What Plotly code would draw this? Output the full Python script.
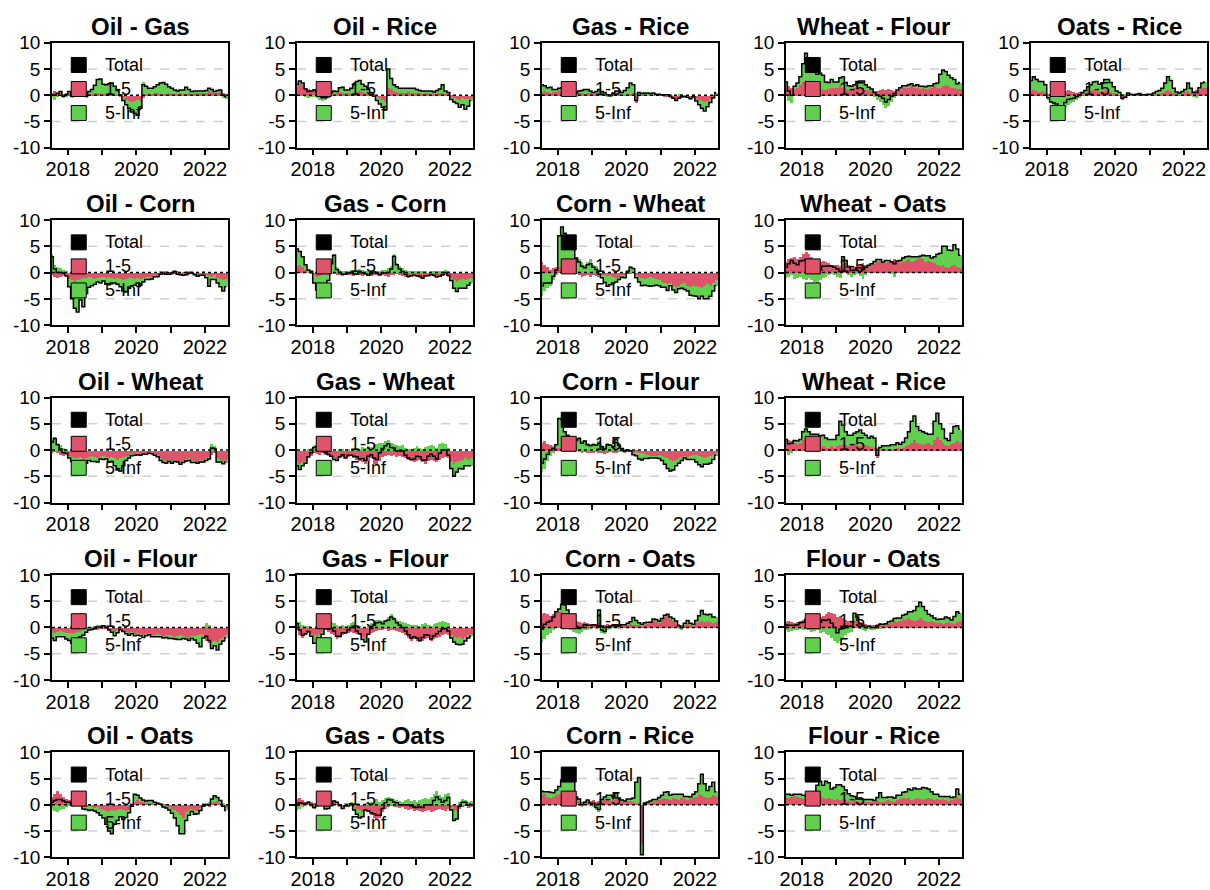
import plotly.graph_objects as go
import pandas as pd

W, H = 1210, 890

# Monthly observation dates, Jul 2017 .. Aug 2022 (62 points)
months = pd.date_range("2017-07-01", "2022-08-01", freq="MS") + pd.Timedelta(days=14)

# ---- pairwise connectedness, 1-5 band and 5-Inf band ----
oil_gas_1_5 = [
    0.5, 0.8, 0.6, 0.5, 0.3, 0.4,
    0.5, 0.3, 0.2, 0.4, 0.6, 0.5, 0.3, 0.2, 0.3, 0.4, 0.5, 0.3,
    0.3, 0.5, 0.4, 0.3, 0.2, 0.1, -0.2, -0.5, -0.8, -1.0, -1.2, -1.0,
    -0.8, -1.0, -0.5, 0.2, 0.5, 0.3, 0.4, 0.5, 0.3, 0.2, 0.3, 0.4,
    0.3, 0.2, 0.3, 0.4, 0.2, 0.3, 0.4, 0.3, 0.5, 0.6, 0.5, 0.4,
    0.6, 0.8, 0.7, 0.5, 0.6, 0.8, 0.5, 0.3]
oil_gas_5_inf = [
    -0.5, -0.8, -0.3, 0.2, -0.5, -0.3,
    0.2, -0.5, 0.5, 0.8, -0.2, 0.3, -0.5, 0.5, 0.8, 1.5, 2.5, 2.8,
    1.8, 1.5, 1.8, 2.0, 1.5, 0.8, 0.3, -0.5, -1.0, -1.5, -2.0, -2.5,
    -3.0, -1.5, 2.5, 1.5, 0.8, 1.0, 1.2, 1.5, 2.0, 2.2, 1.8, 1.2,
    1.0, 0.8, 0.5, 0.6, 0.8, 1.2, 0.7, 0.4, 0.3, 0.2, 0.3, 0.4,
    0.3, 0.5, 0.4, 0.2, 0.3, 0.2, -0.5, -0.6]

oil_rice_1_5 = [
    1.8, 2.2, 2.0, 1.5, 1.2, 1.0,
    1.2, 1.0, 0.8, 0.5, 0.3, 0.2, 0.2, 0.3, 0.5, 0.6, 0.5, 0.4,
    0.5, 0.3, 0.5, 0.6, 0.8, 0.6, 0.5, 0.3, 0.2, 0.1, -0.2, -0.5,
    -0.8, -1.0, 1.5, 1.2, 0.8, 0.6, 0.5, 0.5, 0.5, 0.6, 0.5, 0.5,
    0.5, 0.4, 0.3, 0.4, 0.5, 0.3, 0.2, 0.3, 0.4, 0.5, 0.2, 0.3,
    -0.3, -0.5, -0.6, -0.8, -0.5, -0.7, -0.6, -0.4]
oil_rice_5_inf = [
    0.3, 0.5, 0.3, -0.3, -0.5, -0.2,
    -0.2, -0.4, -0.8, -1.0, -0.8, -0.5, 0.3, 0.5, 0.2, 0.8, 1.0, 0.6,
    0.5, 1.0, 1.5, 2.0, 2.0, 1.5, 1.2, 0.8, 0.3, -0.3, -0.8, -1.2,
    -1.5, -1.8, 3.5, 2.0, 1.2, 1.0, 0.8, 0.8, 0.8, 0.7, 0.8, 0.8,
    0.6, 0.5, 0.5, 0.4, 0.3, 0.5, 0.4, 0.6, 0.8, 1.5, 0.6, 0.2,
    -0.5, -0.8, -1.0, -1.5, -1.3, -2.0, -1.5, -0.6]

gas_rice_1_5 = [
    0.5, 0.8, 0.6, 0.5, 0.6, 0.8,
    1.0, 1.2, 1.3, 1.2, 1.0, 0.8, 0.6, 0.5, 0.4, 0.3, 0.5, 0.4,
    0.3, 0.2, 0.3, 0.1, 0.2, 0.3, 0.2, 0.1, 0.2, 0.3, 0.2, 0.1,
    0.2, 0.3, 0.5, -1.5, 0.2, 0.1, 0.1, 0.0, 0.1, 0.1, 0.0, 0.1,
    0.0, -0.1, -0.2, -0.4, -0.6, -0.8, -0.7, -0.5, -0.3, -0.2, -0.4, -0.5,
    -0.6, -0.8, -1.0, -1.2, -1.0, -0.6, -0.3, 0.2]
gas_rice_5_inf = [
    1.5, 1.0, 0.8, 1.0, 0.5, 0.3,
    0.3, 0.2, 0.5, 0.4, 0.2, 0.0, -0.2, 0.3, 0.5, 0.8, 0.6, 0.4,
    0.2, 0.5, 0.8, 0.6, 0.3, -0.2, -0.3, 0.2, 0.6, 0.5, 0.3, 0.8,
    1.2, 2.0, 1.5, 0.5, 0.3, 0.2, 0.3, 0.4, 0.2, 0.3, 0.2, 0.1,
    0.1, 0.2, 0.3, 0.2, 0.0, -0.2, 0.1, 0.2, 0.0, -0.2, -0.3, 0.2,
    -0.5, -1.0, -1.5, -1.8, -1.2, -0.8, -0.2, 0.3]

wheat_flour_1_5 = [
    1.5, 1.8, 1.5, 1.2, 1.5, 2.0,
    2.5, 3.0, 2.8, 2.5, 2.0, 1.5, 1.2, 1.0, 1.0, 1.2, 1.5, 1.5,
    1.5, 1.8, 1.5, 1.2, 1.0, 1.2, 1.5, 1.8, 1.5, 1.2, 1.0, 1.0,
    1.0, 0.8, 0.8, 1.0, 1.2, 1.0, 1.2, 1.0, 0.8, 1.0, 1.2, 1.5,
    1.5, 1.5, 1.8, 1.6, 1.5, 1.4, 1.5, 1.2, 1.3, 1.5, 1.8, 1.5,
    1.5, 1.8, 2.0, 1.8, 1.5, 1.5, 1.2, 1.2]
wheat_flour_5_inf = [
    1.0, -1.0, -1.5, 0.5, 0.8, 1.5,
    3.5, 5.0, 4.0, 3.5, 2.5, 2.5, 3.0, 2.8, 1.5, 1.2, 1.5, 1.0,
    1.0, 1.5, 2.0, 1.2, 0.8, 0.5, 0.5, 0.8, 1.2, 1.5, 1.0, 0.5,
    0.2, -0.3, -0.8, -1.2, -1.8, -2.3, -2.0, -1.2, -0.5, 0.0, 0.2, 0.3,
    0.3, 0.5, 0.4, 0.2, 0.5, 0.3, 0.2, 0.4, 0.5, 0.3, 0.4, 0.8,
    2.5, 3.0, 2.5, 2.0, 1.8, 1.5, 1.0, 1.2]

oats_rice_1_5 = [
    0.8, 1.0, 0.8, 0.6, 0.8, 0.5,
    0.3, 0.2, 0.5, 0.8, 1.0, 0.8, 0.8, 1.0, 0.8, 0.6, 0.5, 0.6,
    0.5, 0.6, 0.8, 0.8, 1.0, 0.8, 0.6, 0.8, 1.0, 0.8, 0.6, 0.4,
    0.3, 0.2, -0.8, -0.5, 0.2, 0.1, 0.1, 0.1, 0.1, 0.0, 0.1, 0.1,
    0.1, 0.2, 0.3, 0.3, 0.5, 0.8, 1.0, 0.8, 0.5, 0.3, 0.2, 0.3,
    0.6, 0.8, 0.5, 0.8, 1.0, 1.2, 1.5, 1.5]
oats_rice_5_inf = [
    2.0, 2.5, 2.2, 2.0, 1.8, 1.5,
    -0.8, -1.5, -2.0, -2.5, -3.0, -2.8, -2.2, -1.8, -1.5, -1.2, -0.8, -0.5,
    0.0, 0.3, 0.8, 1.2, 1.5, 1.8, 1.5, 1.5, 2.0, 2.2, 1.8, 1.2,
    0.5, 0.3, 0.2, 0.1, 0.2, 0.1, 0.0, 0.1, 0.2, 0.1, 0.0, 0.1,
    0.1, 0.2, 0.4, 0.6, 0.8, 1.5, 2.5, 2.0, 0.8, 0.3, 0.2, 0.4,
    0.5, 1.5, 0.8, -0.3, -0.5, 0.2, 0.8, 1.0]

oil_corn_1_5 = [
    -0.5, -0.8, -1.0, -0.8, -0.6, -0.8,
    -1.2, -1.5, -1.8, -1.5, -1.2, -1.0, -1.0, -0.8, -1.0, -1.2, -1.0, -0.8,
    -0.8, -1.0, -0.8, -1.0, -1.2, -1.0, -1.2, -1.5, -1.2, -1.0, -1.0, -1.2,
    -1.0, -1.2, -1.0, -0.8, -1.0, -0.8, -0.6, -0.8, -0.5, -0.4, -0.5, -0.3,
    -0.4, -0.3, -0.5, -0.4, -0.3, -0.5, -0.4, -0.3, -0.4, -0.5, -0.4, -0.6,
    -0.5, -0.6, -0.8, -0.5, -1.0, -1.2, -1.5, -1.2]
oil_corn_5_inf = [
    3.5, 1.5, 1.0, 0.8, 0.5, 0.2,
    -1.5, -3.5, -5.0, -6.0, -4.0, -5.5, -3.0, -2.0, -1.5, -1.0, -0.8, -1.2,
    -0.8, -1.2, -1.5, -1.0, -0.8, -1.2, -1.5, -2.0, -2.5, -2.0, -1.5, -1.2,
    -1.0, -1.2, -0.8, -0.5, -0.3, -0.4, -0.2, 0.0, 0.2, 0.3, 0.2, 0.0,
    0.3, 0.5, 0.2, 0.0, -0.2, 0.1, 0.3, 0.2, 0.0, -0.2, -0.1, 0.1,
    -0.5, -2.0, -0.5, -0.8, -1.0, -1.5, -2.0, -1.5]

gas_corn_1_5 = [
    1.0, 1.5, 1.0, 0.5, 0.0, -0.3,
    -0.5, -0.8, -0.6, -0.5, -0.3, -0.5, -0.3, -0.2, -0.4, -0.5, -0.6, -0.5,
    -0.4, -0.5, -0.6, -0.5, -0.4, -0.6, -0.5, -0.7, -0.6, -0.5, -0.4, -0.6,
    -0.5, -0.6, -0.8, -0.5, -0.4, -0.3, -0.5, -0.6, -0.8, -1.0, -0.8, -0.6,
    -0.8, -1.0, -1.2, -0.8, -0.6, -0.5, -0.8, -1.0, -0.8, -0.6, -0.5, -0.8,
    -1.0, -1.5, -1.8, -1.5, -1.2, -1.5, -1.2, -1.0]
gas_corn_5_inf = [
    3.5, 2.5, 2.0, 1.0, 0.5, 0.5,
    -1.5, -2.5, -3.5, -4.0, -2.0, -1.0, 2.0, 3.5, 1.0, 0.5, 0.3, 0.2,
    0.3, 0.5, 0.4, 0.2, 0.6, 0.5, 0.3, 0.2, 0.4, 0.6, 0.3, 0.2,
    0.4, 0.5, 0.8, 1.2, 3.5, 1.8, 1.2, 0.8, 0.5, 0.3, 0.2, 0.1,
    0.2, 0.3, 0.1, 0.2, 0.0, 0.1, 0.3, 0.2, 0.1, 0.2, 0.5, 0.3,
    -0.5, -1.5, -1.8, -1.5, -1.8, -1.5, -1.2, -1.0]

corn_wheat_1_5 = [
    2.0, 1.5, 1.0, 0.5, 0.8, 1.0,
    1.0, 1.2, 1.0, 0.8, 0.5, 0.3, -0.2, -0.5, -0.8, -0.6, -0.5, -0.8,
    -0.5, -0.6, -0.8, -0.5, -0.4, -0.6, -0.5, -0.8, -1.0, -0.8, -0.6, -0.5,
    -0.3, -0.2, 0.0, -0.5, -0.8, -1.0, -1.2, -1.0, -0.8, -1.0, -1.2, -1.5,
    -1.8, -2.0, -2.2, -2.0, -2.5, -2.8, -2.5, -2.2, -2.0, -2.5, -2.8, -2.6,
    -2.5, -2.8, -3.0, -2.5, -2.2, -2.5, -2.0, -1.5]
corn_wheat_5_inf = [
    -4.5, -3.5, -3.0, -2.5, -1.5, -0.5,
    6.0, 7.5, 6.5, 5.5, 6.0, 4.5, 3.0, 2.5, 2.0, 1.5, 2.0, 2.5,
    1.5, 1.2, 0.5, -0.5, -1.5, -2.0, -1.8, -1.2, -0.8, -0.5, -0.3, -0.5,
    0.5, 1.2, 0.8, -0.5, -1.0, -1.5, -1.2, -1.5, -1.8, -1.5, -1.2, -1.0,
    -1.0, -0.8, -1.2, -0.5, -0.8, -1.0, -0.6, -0.8, -1.2, -1.0, -1.5, -1.8,
    -2.0, -2.2, -1.5, -2.5, -2.8, -2.0, -1.5, -1.0]

wheat_oats_1_5 = [
    2.0, 2.5, 2.8, 3.0, 2.5, 3.0,
    3.5, 4.0, 3.5, 3.0, 2.5, 2.5, 2.0, 2.2, 2.0, 1.8, 1.5, 1.5,
    1.5, 1.2, 1.5, 1.8, 1.5, 1.2, 1.0, 1.2, 1.5, 1.8, 1.5, 1.2,
    1.5, 1.8, 2.0, 2.2, 2.0, 1.8, 2.0, 2.2, 2.5, 2.0, 1.8, 2.0,
    2.2, 2.5, 2.0, 2.2, 2.5, 2.8, 2.5, 2.0, 2.2, 2.0, 1.8, 1.5,
    1.2, 1.5, 1.0, 0.8, 1.2, 1.5, 1.0, 0.8]
wheat_oats_5_inf = [
    -1.0, -0.8, -0.5, -1.2, -1.0, -0.8,
    -1.2, -1.5, -1.0, -1.5, -1.8, -2.0, -1.5, -1.0, -0.8, -0.5, -0.3, -0.5,
    -0.8, -1.0, 1.5, 0.5, -0.5, -0.8, -0.5, -0.3, -0.6, -1.2, -0.5, 0.2,
    0.2, 0.3, 0.5, 0.3, 0.0, 0.5, 0.3, -0.2, -0.8, 0.2, 0.5, 0.8,
    0.8, 0.6, 1.0, 0.8, 0.5, 0.3, 0.8, 1.2, 1.0, 0.8, 1.2, 2.0,
    2.5, 3.5, 4.0, 3.5, 3.0, 3.8, 3.5, 2.5]

oil_wheat_1_5 = [
    -0.5, -0.3, -0.5, -0.8, -1.0, -0.8,
    -1.0, -1.2, -1.5, -1.5, -1.2, -1.8, -1.5, -1.2, -1.0, -1.2, -1.5, -1.2,
    -1.0, -1.2, -1.5, -1.2, -1.5, -1.8, -1.5, -1.2, -1.0, -1.0, -0.8, -0.8,
    -0.6, -0.8, -0.8, -0.6, -0.5, -0.7, -0.8, -1.0, -1.5, -1.8, -2.0, -1.8,
    -2.0, -1.8, -2.0, -2.2, -2.0, -1.8, -1.5, -1.8, -2.0, -2.2, -1.8, -2.0,
    -1.5, -1.2, -0.8, -0.5, -1.5, -1.8, -2.0, -1.8]
oil_wheat_5_inf = [
    2.0, 2.5, 1.5, 1.0, 0.5, 0.2,
    -0.5, -1.0, -1.5, -2.0, -2.2, -1.5, -1.0, -0.8, -1.2, -1.0, -0.8, -0.5,
    -0.8, -0.5, -0.8, -1.0, -1.5, -2.0, -2.5, -1.8, -1.0, -0.5, -0.3, -0.2,
    -0.3, -0.2, 0.0, -0.2, -0.1, 0.0, -0.2, -0.3, -0.5, -0.6, -0.5, -0.4,
    -0.5, -0.4, -0.3, -0.5, -0.4, -0.3, -0.5, -0.6, -0.4, -0.3, -0.5, -0.3,
    -0.5, -0.5, 1.2, 0.8, -0.8, -0.5, -0.6, -0.5]

gas_wheat_1_5 = [
    -2.0, -2.5, -2.2, -2.0, -1.5, -1.0,
    -0.5, -0.6, -0.8, -0.5, -0.8, -1.0, -1.2, -1.5, -1.8, -1.5, -1.2, -1.5,
    -1.2, -1.0, -1.5, -1.8, -2.0, -2.2, -2.5, -2.0, -1.5, -2.5, -3.0, -2.0,
    -1.2, -1.0, -0.8, -1.0, -0.8, -1.2, -1.0, -1.2, -1.5, -1.8, -2.0, -2.2,
    -2.0, -1.8, -2.2, -2.5, -2.0, -1.8, -2.0, -2.2, -1.8, -1.5, -1.2, -1.5,
    -2.0, -2.5, -2.2, -2.0, -1.8, -1.5, -1.8, -1.5]
gas_wheat_5_inf = [
    -1.0, -1.2, -0.8, -0.5, 0.2, 0.5,
    1.0, 1.2, 0.8, 0.5, 0.3, 0.2, 0.0, -0.3, -0.2, 0.2, 0.3, 0.0,
    0.2, 0.0, 0.3, 0.5, 0.3, 0.6, 0.5, 0.8, 0.6, 1.0, 1.2, 1.5,
    1.5, 1.8, 2.0, 1.5, 1.2, 1.0, 0.8, 1.0, 0.5, 0.3, 0.2, 0.5,
    0.8, 0.5, 0.3, 0.6, 0.8, 1.0, 0.8, 0.5, 1.2, 1.5, 1.2, 0.5,
    -1.5, -2.5, -2.0, -1.5, -1.8, -1.5, -1.2, -1.5]

corn_flour_1_5 = [
    1.5, 1.8, 1.2, 1.0, 0.8, 0.5,
    0.5, 0.8, 0.5, 0.3, 0.5, 0.2, 0.0, -0.3, -0.5, -0.3, -0.5, -0.4,
    -0.5, -0.3, -0.5, -0.4, -0.6, -0.5, -0.3, -0.4, -0.5, -0.3, -0.2, -0.4,
    -0.3, -0.2, -0.4, -0.3, -0.5, -0.4, -0.6, -0.8, -1.0, -1.2, -1.0, -0.8,
    -1.0, -1.2, -1.5, -1.8, -2.0, -1.8, -1.5, -1.2, -1.0, -1.2, -1.0, -0.8,
    -0.8, -1.0, -1.2, -1.5, -1.2, -1.0, -0.8, -0.5]
corn_flour_5_inf = [
    -4.0, -3.5, -2.0, -1.0, -0.5, 0.5,
    5.5, 5.0, 3.0, 2.5, 2.0, 1.5, 1.8, 2.5, 1.8, 2.0, 1.5, 1.2,
    1.5, 1.2, 1.8, 1.0, 0.8, 1.5, 1.2, 1.0, 2.5, 1.2, 0.5, 0.2,
    0.3, 0.0, -0.5, -0.8, -1.2, -1.5, -1.0, -0.8, -0.5, -0.3, -0.5, -0.8,
    -1.0, -1.5, -2.0, -2.2, -1.8, -1.2, -1.0, -0.8, -0.5, -0.6, -0.8, -1.0,
    -1.5, -1.8, -2.0, -1.2, -1.5, -1.5, -1.0, -0.5]

wheat_rice_1_5 = [
    1.5, 2.0, 1.8, 1.5, 1.2, 1.5,
    2.0, 2.2, 2.0, 1.5, 1.0, 0.5, 0.5, 0.8, 0.5, 0.5, 0.8, 0.5,
    0.8, 1.0, 1.2, 1.0, 0.8, 1.0, 1.2, 1.0, 0.8, 1.2, 1.0, 0.8,
    0.6, 0.5, -1.5, 0.2, 0.3, 0.2, 0.3, 0.2, 0.3, 0.4, 0.3, 0.5,
    0.8, 1.0, 1.5, 2.0, 1.5, 1.2, 1.0, 1.2, 1.5, 1.0, 2.0, 2.5,
    2.0, 1.5, 1.0, 0.8, 1.2, 1.5, 1.8, 1.5]
wheat_rice_5_inf = [
    0.5, -0.8, -0.5, 0.3, 0.5, 0.5,
    1.5, 1.8, 1.5, 1.5, 2.0, 2.5, 2.2, 2.0, 1.8, 1.5, 1.2, 1.5,
    2.0, 4.5, 3.5, 2.5, 2.0, 1.8, 2.0, 2.5, 3.0, 2.0, 1.8, 1.5,
    2.0, 1.8, 0.5, 0.3, 0.5, 0.6, 0.5, 0.8, 0.7, 1.0, 0.8, 1.0,
    1.5, 2.5, 4.0, 4.5, 3.0, 2.5, 2.5, 2.0, 1.5, 2.0, 3.5, 4.5,
    3.0, 2.5, 1.2, 1.0, 2.0, 3.0, 2.8, 2.5]

oil_flour_1_5 = [
    -0.8, -1.0, -0.8, -0.6, -0.8, -1.0,
    -1.0, -1.2, -1.0, -0.8, -0.6, -0.5, -0.3, -0.2, -0.3, -0.5, -0.4, -0.3,
    -0.2, -0.3, -0.5, -0.6, -0.8, -0.5, -0.6, -0.8, -1.0, -1.2, -1.0, -1.2,
    -1.2, -1.4, -1.5, -1.3, -1.2, -1.5, -1.4, -1.3, -1.5, -1.6, -1.4, -1.5,
    -1.6, -1.8, -1.7, -1.5, -1.6, -1.8, -2.0, -1.8, -1.6, -1.5, -1.2, -1.5,
    -2.5, -3.0, -2.8, -2.5, -2.8, -2.2, -1.8, -1.5]
oil_flour_5_inf = [
    -1.2, -1.5, -1.0, -1.2, -1.0, -1.2,
    -1.5, -1.8, -2.0, -1.5, -1.2, -1.0, -0.6, -0.3, -0.1, 0.3, 0.5, 0.4,
    0.5, 0.3, 0.0, -0.3, -0.8, -0.5, 0.2, 0.0, -0.2, -0.3, -0.2, -0.4,
    -0.3, -0.2, -0.4, -0.3, -0.2, -0.3, -0.4, -0.5, -0.3, -0.4, -0.5, -0.6,
    -0.5, -0.4, -0.6, -0.8, -0.5, -0.4, -0.5, -0.3, -0.8, -1.5, -2.5, -0.5,
    0.8, 0.5, -1.2, -1.0, -1.5, -1.0, -0.8, -0.5]

gas_flour_1_5 = [
    -0.5, -1.5, -2.0, -1.5, -1.0, -1.2,
    -1.5, -1.8, -1.2, -0.8, -0.5, -0.8, -1.2, -1.5, -2.2, -2.0, -1.5, -1.2,
    -1.0, -0.8, -1.0, -1.2, -1.5, -1.8, -2.0, -1.5, -1.0, -0.8, -0.6, -0.5,
    -0.5, -0.3, -0.6, -0.5, -0.4, -0.6, -0.8, -1.0, -1.5, -2.0, -2.5, -2.2,
    -2.5, -2.8, -2.5, -2.2, -2.0, -2.5, -2.2, -2.0, -1.8, -1.5, -1.2, -1.5,
    -1.5, -1.8, -2.0, -1.8, -2.2, -1.8, -1.5, -1.2]
gas_flour_5_inf = [
    1.2, 1.0, 0.5, 0.3, 0.2, -0.5,
    -1.5, -1.2, -0.8, -0.5, 0.3, 0.5, 1.0, 0.8, 0.5, 0.3, 0.5, 0.2,
    0.5, 0.8, 1.0, 0.5, 0.3, -0.5, -0.8, 0.2, 0.8, 1.2, 1.5, 1.5,
    1.2, 1.5, 2.0, 2.5, 2.0, 1.5, 1.2, 1.0, 0.8, 0.6, 0.5, 0.4,
    0.5, 0.3, 0.6, 0.8, 0.5, 0.3, 0.6, 0.8, 1.0, 1.2, 1.0, 0.8,
    -0.5, -1.0, -1.2, -1.5, -1.0, -0.8, -0.5, -0.5]

corn_oats_1_5 = [
    2.5, 2.8, 2.5, 2.2, 2.5, 2.8,
    3.0, 3.2, 2.8, 2.5, 2.0, 1.5, 1.2, 1.0, 0.8, 1.0, 0.8, 0.6,
    0.5, 0.6, 0.8, 0.5, 0.4, 0.6, 0.5, 0.4, 0.3, 0.5, 0.4, 0.3,
    0.5, 0.6, 0.4, 0.5, 0.6, 0.4, 0.5, 0.8, 1.0, 1.5, 1.2, 1.0,
    1.5, 2.0, 2.5, 1.8, 1.2, 0.8, 0.6, 0.5, 0.6, 0.8, 0.5, 0.4,
    0.8, 1.0, 1.2, 1.0, 1.2, 1.0, 0.8, 1.0]
corn_oats_5_inf = [
    -2.8, -2.2, -1.5, -1.0, -0.5, 0.2,
    0.5, 1.2, 1.5, 0.8, -0.5, -0.8, -1.0, -1.2, -0.8, -0.5, -0.4, -0.2,
    0.0, -0.2, 2.5, -1.0, -1.2, -0.5, -0.3, 0.0, 0.2, -0.2, 0.1, 0.2,
    0.3, 0.5, 1.5, 0.8, 0.3, 0.2, 0.4, 0.2, 0.0, 0.1, 0.3, 0.2,
    0.2, 0.3, 0.0, 0.2, 0.5, 0.4, -0.3, -0.5, 0.2, 0.5, 0.3, 0.2,
    0.5, 1.2, 2.0, 1.5, 1.2, 1.5, 1.2, 1.0]

flour_oats_1_5 = [
    1.0, 1.2, 1.0, 0.8, 1.0, 1.2,
    1.5, 1.8, 2.0, 1.8, 1.5, 1.8, 2.0, 2.2, 2.5, 3.0, 2.8, 2.5,
    2.0, 2.2, 1.8, 1.5, 1.2, 1.0, 1.2, 1.5, 1.0, 0.8, 0.6, 0.5,
    0.5, 0.4, 0.6, 0.8, 0.6, 0.5, 0.8, 1.0, 1.2, 1.0, 1.2, 1.5,
    1.5, 1.8, 1.5, 1.2, 1.5, 1.8, 1.5, 1.2, 1.0, 1.2, 1.0, 0.8,
    0.8, 0.6, 0.8, 1.0, 0.8, 0.6, 1.0, 1.2]
flour_oats_5_inf = [
    -0.5, -0.8, -0.6, -0.4, -0.5, -0.3,
    -0.5, -0.3, -0.5, -0.8, -0.6, -0.5, -1.0, -0.8, -1.2, -1.5, -2.0, -2.5,
    -3.0, -2.5, -2.0, -1.5, -1.0, -0.8, 1.5, 0.5, -0.3, -0.5, -0.6, -0.3,
    -0.5, -0.4, -0.3, -0.2, 0.0, 0.2, 0.3, 0.2, 0.5, 0.8, 0.6, 0.8,
    1.0, 1.2, 1.5, 2.0, 2.5, 3.0, 2.5, 2.0, 1.5, 1.0, 0.8, 0.7,
    0.8, 1.0, 1.2, 0.8, 0.6, 1.5, 2.0, 1.5]

oil_oats_1_5 = [
    1.5, 2.0, 2.5, 2.0, 1.5, 1.0,
    0.8, 0.5, 0.3, -0.2, -0.3, -0.5, -0.4, -0.3, -0.5, -0.6, -0.5, -0.8,
    -1.0, -1.2, -1.5, -1.0, -1.2, -1.0, -0.8, -1.0, -1.2, -1.0, -0.5, 0.5,
    0.8, 0.5, 0.4, 0.3, 0.2, 0.3, 0.2, 0.1, 0.0, -0.2, -0.3, -0.5,
    -0.8, -1.0, -1.5, -2.0, -2.5, -1.5, -1.0, -0.8, -1.0, -1.2, -0.8, -0.5,
    -0.3, -0.5, 0.3, 0.5, 0.6, 0.3, -0.5, -0.8]
oil_oats_5_inf = [
    -1.0, -1.2, -1.5, -1.0, -0.8, -0.5,
    -0.3, -0.5, -0.2, 0.3, 0.2, -0.3, -0.5, -0.8, -0.5, -0.6, -1.0, -1.2,
    -1.5, -2.5, -3.5, -4.5, -2.5, -2.0, -1.5, -1.8, -1.2, -0.5, 0.2, 1.5,
    1.0, 0.8, 0.5, 0.4, 0.6, 0.5, 0.3, 0.2, 0.1, -0.2, -0.3, -0.5,
    -0.8, -1.5, -2.5, -3.5, -3.0, -1.5, -1.0, -0.5, -0.8, -0.5, -0.3, 0.2,
    0.3, 0.5, 0.8, 1.2, 0.8, 0.5, 0.2, -0.3]

gas_oats_1_5 = [
    1.0, 1.2, 0.8, 0.5, 0.3, 0.5,
    0.3, 0.5, 0.2, -0.3, -0.5, -0.2, 0.3, 0.5, 0.2, -0.2, -0.5, -0.4,
    -0.5, -0.3, -0.5, -0.8, -1.0, -1.5, -1.2, -1.5, -2.0, -2.5, -3.0, -2.5,
    -1.5, -0.8, -0.5, -0.3, -0.5, -0.4, -0.6, -0.5, -0.8, -1.0, -0.8, -1.2,
    -1.0, -1.2, -1.5, -1.2, -1.0, -1.5, -1.2, -1.0, -0.8, -1.0, -1.2, -0.8,
    -0.5, -1.0, -1.2, -0.8, -0.5, -0.3, -0.6, -0.5]
gas_oats_5_inf = [
    -1.0, -0.8, -0.5, -0.3, 0.2, -0.5,
    -0.8, -0.5, -0.3, 0.2, -0.3, -0.5, -0.4, 0.2, 0.3, 0.0, -0.2, 0.2,
    0.3, 0.5, -0.5, -1.0, -1.5, -0.8, 0.2, 0.3, 0.5, 0.8, 1.0, 0.5,
    0.8, 1.2, 1.5, 1.2, 1.0, 0.8, 0.6, 0.5, 0.8, 1.0, 0.6, 0.8,
    0.5, 0.8, 1.0, 1.2, 1.0, 1.5, 2.0, 2.5, 1.8, 1.5, 2.0, 2.2,
    -0.5, -2.0, -1.5, 0.5, 1.0, 0.8, 0.5, 0.6]

corn_rice_1_5 = [
    1.8, 2.0, 1.5, 1.2, 1.5, 1.8,
    2.0, 2.2, 2.5, 2.0, 1.8, 1.5, 1.0, 0.8, 0.5, 0.3, 0.5, 0.6,
    0.8, 0.5, 0.6, 0.8, 1.0, 0.8, 0.6, 0.8, 1.0, 0.8, 0.6, 0.5,
    0.8, 0.6, 0.5, 0.3, 0.2, -7.5, 0.2, 0.3, 0.4, 0.5, 0.6, 0.8,
    1.0, 1.2, 1.0, 0.8, 1.2, 1.0, 0.8, 1.2, 1.0, 0.8, 1.0, 1.2,
    1.5, 2.0, 1.8, 1.5, 1.2, 1.5, 1.8, 1.5]
corn_rice_5_inf = [
    0.8, 0.5, 1.0, 1.2, 0.8, 1.0,
    1.5, 2.5, 4.5, 5.0, 4.5, 3.5, 0.5, 0.3, -0.5, 0.2, 0.4, -0.3,
    -0.5, -1.0, -1.5, 0.2, 0.5, 1.0, 1.2, 0.8, 1.2, 0.5, 0.3, 0.2,
    0.3, 0.5, 0.8, 4.0, 5.0, -2.0, 0.1, 0.2, 0.3, 0.5, 0.4, 0.6,
    0.8, 1.2, 1.5, 1.0, 0.8, 1.0, 1.2, 0.8, 0.6, 0.8, 0.5, 0.8,
    1.0, 2.0, 4.0, 2.5, 1.5, 2.0, 2.5, 1.0]

flour_rice_1_5 = [
    1.5, 1.2, 1.5, 1.8, 1.5, 1.2,
    1.0, 1.2, 1.5, 1.2, 1.0, 1.2, 1.5, 1.2, 1.0, 1.2, 1.0, 0.8,
    1.0, 0.8, 1.0, 0.8, 0.6, 0.5, 0.8, 0.6, 0.5, 0.6, 0.5, 0.4,
    0.5, 0.4, 0.6, 0.5, 0.4, 0.6, 0.8, 0.6, 0.5, 0.8, 1.0, 1.2,
    1.0, 1.2, 0.8, 1.0, 1.2, 1.0, 0.8, 1.0, 1.2, 1.0, 0.8, 1.0,
    0.8, 1.0, 0.8, 0.6, 0.8, 1.0, 1.2, 1.0]
flour_rice_5_inf = [
    0.5, 0.8, 0.3, 0.2, 0.5, 0.8,
    0.8, 0.5, 0.3, 0.8, 1.5, 2.5, 3.0, 2.5, 3.5, 3.0, 2.0, 2.5,
    2.8, 3.0, 2.5, 2.0, 1.5, 1.2, 0.8, 0.5, 0.6, 0.4, 0.5, 0.6,
    0.5, 0.4, 0.8, 1.8, 1.0, 0.8, 0.7, 0.9, 0.8, 1.0, 0.8, 1.2,
    1.5, 1.8, 2.0, 2.2, 1.8, 2.0, 2.5, 2.2, 1.8, 1.5, 1.2, 1.0,
    0.8, 0.6, 0.8, 1.0, 0.6, 0.5, 1.8, 1.0]

# (title, grid row, grid column, 1-5 band, 5-Inf band)
panels = [
    ("Oil - Gas", 0, 0, oil_gas_1_5, oil_gas_5_inf),
    ("Oil - Rice", 0, 1, oil_rice_1_5, oil_rice_5_inf),
    ("Gas - Rice", 0, 2, gas_rice_1_5, gas_rice_5_inf),
    ("Wheat - Flour", 0, 3, wheat_flour_1_5, wheat_flour_5_inf),
    ("Oats - Rice", 0, 4, oats_rice_1_5, oats_rice_5_inf),
    ("Oil - Corn", 1, 0, oil_corn_1_5, oil_corn_5_inf),
    ("Gas - Corn", 1, 1, gas_corn_1_5, gas_corn_5_inf),
    ("Corn - Wheat", 1, 2, corn_wheat_1_5, corn_wheat_5_inf),
    ("Wheat - Oats", 1, 3, wheat_oats_1_5, wheat_oats_5_inf),
    ("Oil - Wheat", 2, 0, oil_wheat_1_5, oil_wheat_5_inf),
    ("Gas - Wheat", 2, 1, gas_wheat_1_5, gas_wheat_5_inf),
    ("Corn - Flour", 2, 2, corn_flour_1_5, corn_flour_5_inf),
    ("Wheat - Rice", 2, 3, wheat_rice_1_5, wheat_rice_5_inf),
    ("Oil - Flour", 3, 0, oil_flour_1_5, oil_flour_5_inf),
    ("Gas - Flour", 3, 1, gas_flour_1_5, gas_flour_5_inf),
    ("Corn - Oats", 3, 2, corn_oats_1_5, corn_oats_5_inf),
    ("Flour - Oats", 3, 3, flour_oats_1_5, flour_oats_5_inf),
    ("Oil - Oats", 4, 0, oil_oats_1_5, oil_oats_5_inf),
    ("Gas - Oats", 4, 1, gas_oats_1_5, gas_oats_5_inf),
    ("Corn - Rice", 4, 2, corn_rice_1_5, corn_rice_5_inf),
    ("Flour - Rice", 4, 3, flour_rice_1_5, flour_rice_5_inf),
]

legend_labels = ["Total", "1-5", "5-Inf"]
year_ticks = ["2018-01-01", "2019-01-01", "2020-01-01", "2021-01-01", "2022-01-01"]
year_text = ["2018", "", "2020", "", "2022"]

RED = "#DF536B"
GREEN = "#61D04F"
FONT = "Liberation Sans, Arial, sans-serif"

col_left = [52, 297, 542, 786, 1031]
row_top = [42.7, 220.1, 397.5, 574.9, 752.3]
PW, PH = 176, 105
BAR_W = 31 * 86400000

fig = go.Figure()
layout = {}
shapes = []
annotations = []

for k, (title, r, c, band_short, band_long) in enumerate(panels, start=1):
    assert len(band_short) == len(months) and len(band_long) == len(months), title
    total = [a + b for a, b in zip(band_short, band_long)]
    sfx = "" if k == 1 else str(k)
    xa, ya = "x" + sfx, "y" + sfx

    fig.add_trace(go.Bar(x=months, y=band_short, width=BAR_W,
                         marker=dict(color=RED, line=dict(width=0)),
                         xaxis=xa, yaxis=ya, showlegend=False))
    fig.add_trace(go.Bar(x=months, y=band_long, width=BAR_W,
                         marker=dict(color=GREEN, line=dict(width=0)),
                         xaxis=xa, yaxis=ya, showlegend=False))
    fig.add_trace(go.Scatter(x=months, y=total, mode="lines",
                             line=dict(color="black", width=1.5, shape="hvh"),
                             xaxis=xa, yaxis=ya, showlegend=False))

    x0 = col_left[c] / W
    x1 = (col_left[c] + PW) / W
    y1 = 1 - row_top[r] / H
    y0 = 1 - (row_top[r] + PH) / H

    axis_common = dict(showline=True, mirror=True, linecolor="black", linewidth=1.5,
                       ticks="outside", ticklen=6, tickwidth=1.5, tickcolor="black",
                       showgrid=False, zeroline=False, automargin=False)
    layout["xaxis" + sfx] = dict(domain=[x0, x1], anchor=ya, type="date",
                                 range=["2017-07-16", "2022-09-04"],
                                 tickvals=year_ticks, ticktext=year_text,
                                 ticklabelstandoff=-3,
                                 tickfont=dict(family=FONT, size=20, color="black"),
                                 **axis_common)
    layout["yaxis" + sfx] = dict(domain=[y0, y1], anchor=xa, range=[-10, 10],
                                 tickvals=[-10, -5, 0, 5, 10],
                                 ticktext=["-10", "-5", "0", "5", "10"],
                                 tickfont=dict(family=FONT, size=19, color="black"),
                                 **axis_common)

    xd = xa + " domain"
    # reference lines
    for lvl in (-5, 5):
        shapes.append(dict(type="line", xref=xd, yref=ya, x0=0, x1=1, y0=lvl, y1=lvl,
                           line=dict(color="#CFCFCF", width=1.5, dash="dash"), layer="below"))
    shapes.append(dict(type="line", xref=xd, yref=ya, x0=0, x1=1, y0=0, y1=0,
                       line=dict(color="black", width=1.5, dash="dot"), layer="above"))

    # in-panel key
    key_y = [0.788, 0.559, 0.330]
    key_fill = ["black", RED, GREEN]
    hx, hy = 7.5 / PW, 7.5 / PH
    for yy, fc, lab in zip(key_y, key_fill, legend_labels):
        shapes.append(dict(type="rect", xref=xd, yref=ya + " domain",
                           x0=0.152 - hx, x1=0.152 + hx, y0=yy - hy, y1=yy + hy,
                           fillcolor=fc, line=dict(color="black", width=1), layer="above"))
        annotations.append(dict(xref=xd, yref=ya + " domain", x=0.29, y=yy,
                                xanchor="left", yanchor="middle", showarrow=False,
                                text=lab, font=dict(family=FONT, size=18, color="black")))

    annotations.append(dict(xref="paper", yref="paper", x=(x0 + x1) / 2,
                            y=1 - (row_top[r] - 16.5) / H, xanchor="center", yanchor="middle",
                            showarrow=False, text="<b>" + title + "</b>",
                            font=dict(family=FONT, size=24, color="black")))

fig.update_layout(
    width=W, height=H, margin=dict(l=0, r=0, t=0, b=0),
    paper_bgcolor="white", plot_bgcolor="white",
    barmode="relative", bargap=0,
    showlegend=False, shapes=shapes, annotations=annotations,
    **layout,
)

fig.write_html("out.html")
